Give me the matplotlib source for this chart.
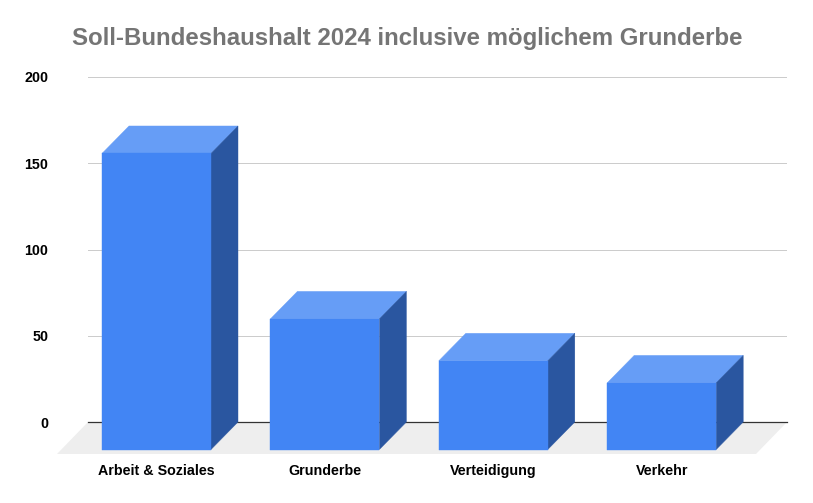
import matplotlib
matplotlib.use('Agg')
import matplotlib.pyplot as plt
from matplotlib.patches import Polygon

plt.rcParams['font.family'] = ['Liberation Sans', 'DejaVu Sans']

# Values
categories = ['Arbeit & Soziales', 'Grunderbe', 'Verteidigung', 'Verkehr']
values = [171.6, 75.7, 51.4, 38.6]
y_ticks = [0, 50, 100, 150, 200]
title = 'Soll-Bundeshaushalt 2024 inclusive möglichem Grunderbe'

W, H = 813, 503
fig = plt.figure(figsize=(W / 100, H / 100), dpi=100)
ax = fig.add_axes([88 / W, 1 - 422 / H, 699 / W, 345 / H])

# category 0 sits at px 156.5, spacing 168.4 px
px_x = 168.4
px_y = 345 / 200
ax.set_xlim((88 - 156.5) / px_x, (787 - 156.5) / px_x)
ax.set_ylim(0, 200)

depth_x = 27 / px_x
depth_y = 27.5 / px_y
half = 54.5 / px_x

# floor
floor_x = 31 / px_x
floor_y = 32 / px_y
x0, x1 = ax.get_xlim()
ax.add_patch(Polygon([(x0, 0), (x1, 0), (x1 - floor_x, -floor_y), (x0 - floor_x, -floor_y)],
                     closed=True, fc='#eeeeee', ec='none', clip_on=False, zorder=1))

ax.set_yticks(y_ticks)
ax.yaxis.grid(True, color='#cccccc', linewidth=0.72)
ax.set_axisbelow(True)
# the baseline sits on the axes edge, so it must not be clipped
ax.axhline(0, color='#333333', linewidth=0.9, zorder=2, clip_on=False)


def face(points, color):
    # same colour edge closes the seams between the faces
    ax.add_patch(Polygon(points, closed=True, fc=color, ec=color, lw=0.3,
                         clip_on=False, zorder=3))


for i, v in enumerate(values):
    left, right = i - half, i + half
    bottom, top = -depth_y, v - depth_y
    face([(left, top), (right, top), (right + depth_x, v), (left + depth_x, v)], '#669df6')
    face([(right, bottom), (right + depth_x, 0), (right + depth_x, v), (right, top)], '#2a56a0')
    face([(left, bottom), (right, bottom), (right, top), (left, top)], '#4285f4')

ax.set_xticks(range(len(categories)))
ax.set_xticklabels(categories, fontsize=10.3, fontweight='bold', color='#000000')
ax.tick_params(axis='x', length=0, pad=30.3)
ax.tick_params(axis='y', length=0, pad=28.5)
for lab in ax.get_yticklabels():
    lab.set_fontsize(10.3)
    lab.set_fontweight('bold')
    lab.set_color('#000000')
for s in ax.spines.values():
    s.set_visible(False)

fig.text(407 / W, 1 - 38.5 / H, title, ha='center', va='center', fontsize=17.32,
         fontweight='bold', color='#757575')

fig.savefig('out.png', dpi=100, facecolor='white')
